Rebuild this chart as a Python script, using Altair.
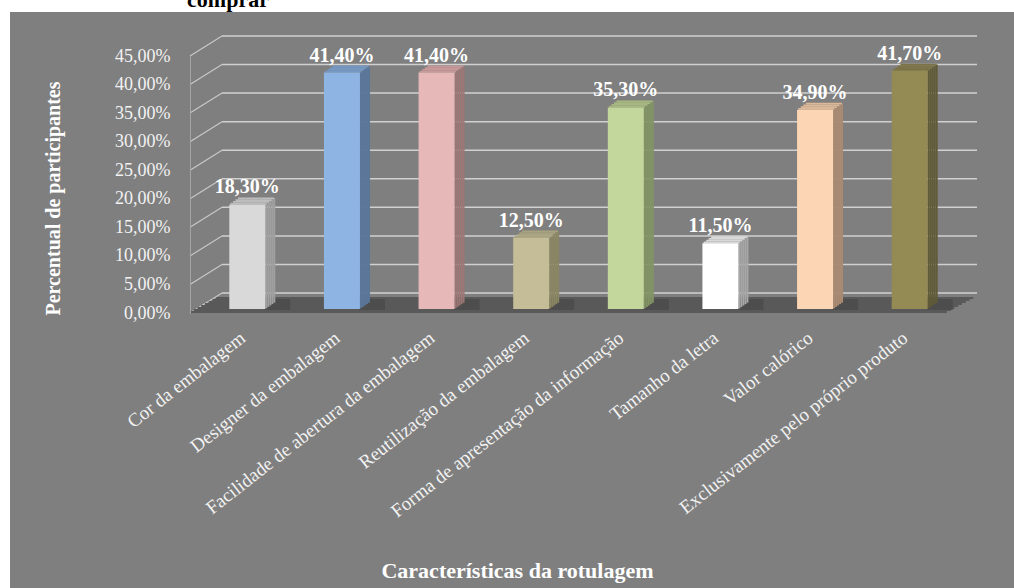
import altair as alt
import pandas as pd

# Rotulagem: share of participants citing each label characteristic
categories = [
    "Cor da embalagem",
    "Designer da embalagem",
    "Facilidade de abertura da embalagem",
    "Reutilização da embalagem",
    "Forma de apresentação da informação",
    "Tamanho da letra",
    "Valor calórico",
    "Exclusivamente pelo próprio produto",
]
percentages = [18.3, 41.4, 41.4, 12.5, 35.3, 11.5, 34.9, 41.7]
y_ticks = [0, 5, 10, 15, 20, 25, 30, 35, 40, 45]

# face colours of the 3-D columns (front / right side / top)
front_colors = ["#D9D9D9", "#8EB4E3", "#E6B9B8", "#C4BD97", "#C3D69B", "#FFFFFF", "#FCD5B5", "#948A54"]
side_colors = ["#A0A0A0", "#5A7699", "#9C7776", "#8A8562", "#839464", "#A6A6A6", "#A98A72", "#615A36"]
top_colors = ["#BDBDBD", "#7598C4", "#C79998", "#A9A27E", "#A7B980", "#D9D9D9", "#DDB898", "#7B7345"]

W, H = 757, 257
DX, DY = 32, 20          # depth of the back wall
BAR_W = 36
BAR_DX, BAR_DY = 10, 4   # columns stand half way into the floor
SERIF = "Liberation Serif"
TXT = "#F2F2F2"

bars = pd.DataFrame({
    "cat": categories,
    "v": percentages,
    "front": front_colors,
    "side": side_colors,
    "top": top_colors,
    "label": [f"{p:.2f}".replace(".", ",") + "%" for p in percentages],
})
ticks = pd.DataFrame({"t": y_ticks})
zero = pd.DataFrame({"t": [0]})

yscale = alt.Scale(domain=[0, 45], nice=False, zero=True)
yaxis = alt.Axis(
    values=y_ticks, zindex=1,
    labelExpr="replace(format(datum.value, '.2f'), '.', ',') + '%'",
    labelFont=SERIF, labelFontSize=18, labelColor=TXT, labelPadding=20,
    domain=True, domainColor="#A6A6A6", ticks=False, grid=False,
    title="Percentual de participantes", titleFont=SERIF, titleFontSize=20,
    titleFontWeight="bold", titleColor="white", titleAngle=270,
    titleX=-137, titleY=142, titleAlign="center", titleBaseline="middle",
)
xaxis = alt.Axis(
    zindex=1,
    labelAngle=322, labelAlign="right", labelBaseline="top", labelPadding=15,
    labelFont=SERIF, labelFontSize=19, labelColor=TXT, labelLimit=500,
    domain=False, ticks=False, grid=False,
    title="Características da rotulagem", titleFont=SERIF, titleFontSize=22,
    titleFontWeight="bold", titleColor="white",
    titleX=327, titleY=264, titleAlign="center", titleBaseline="alphabetic",
)


def xenc():
    return alt.X("cat:N", sort=categories,
                 scale=alt.Scale(paddingInner=0, paddingOuter=0), axis=xaxis)


def yenc(field):
    return alt.Y(f"{field}:Q", scale=yscale, axis=yaxis)


# grey panel behind everything
panel = alt.Chart(zero).mark_rect(color="#7F7F7F").encode(
    x=alt.value(-180), x2=alt.value(W + 67), y=alt.value(-44), y2=alt.value(H + 275)
)

# back-wall gridlines and the short diagonals joining them to the front axis
back_grid = alt.Chart(ticks).mark_rule(color="#D0D0D0", strokeWidth=1.5, yOffset=-DY).encode(
    y=yenc("t"), x=alt.value(DX), x2=alt.value(W + 30)
)
diagonals = alt.Chart(ticks).mark_rule(color="#C8C8C8", strokeWidth=1.2, y2Offset=-DY).encode(
    y=yenc("t"), y2="t", x=alt.value(0), x2=alt.value(DX)
)

# floor: a skewed dark slab built from thin strips
floor_layers = []
n_strips = 8
for k in range(n_strips):
    shift = k * 30 / n_strips
    floor_layers.append(
        alt.Chart(zero).mark_rect(color="#595959", yOffset=-2 * (k + 1), y2Offset=-2 * k).encode(
            y=yenc("t"), y2="t", x=alt.value(shift), x2=alt.value(W + shift)
        )
    )

base = alt.Chart(bars)

# soft shadow cast on the floor to the right of each column
shadow = base.mark_bar(width=26, xOffset=BAR_DX + BAR_W / 2 + 12, yOffset=-BAR_DY - 10,
                       y2Offset=-BAR_DY + 1, color="#4A4A4A", opacity=0.8).encode(
    x=xenc(), y=alt.Y("v:Q", scale=yscale, axis=yaxis).title("Percentual de participantes"),
    y2=alt.Y2(datum=0)
).transform_calculate(v="0")

front = base.mark_bar(width=BAR_W, xOffset=BAR_DX, yOffset=-BAR_DY, y2Offset=-BAR_DY).encode(
    x=xenc(), y=yenc("v"), y2=alt.Y2(datum=0), color=alt.Color("front:N", scale=None)
)

# right side faces, slanting backwards
side_layers = []
n_side = 5
for k in range(n_side):
    lift = -BAR_DY - 1.4 * (k + 0.5)
    side_layers.append(
        base.mark_bar(width=2, xOffset=BAR_DX + BAR_W / 2 + 1 + 2 * k,
                      yOffset=lift, y2Offset=lift).encode(
            x=xenc(), y=yenc("v"), y2=alt.Y2(datum=0), color=alt.Color("side:N", scale=None)
        )
    )

# top faces
top_layers = []
n_top = 4
for k in range(n_top):
    top_layers.append(
        base.mark_bar(width=BAR_W, xOffset=BAR_DX + 2.5 * (k + 0.5),
                      yOffset=-BAR_DY - 1.75 * (k + 1), y2Offset=-BAR_DY - 1.75 * k).encode(
            x=xenc(), y=yenc("v"), y2="v", color=alt.Color("top:N", scale=None)
        )
    )

labels = base.mark_text(font=SERIF, fontSize=20, fontWeight="bold", color="white",
                        align="center", baseline="alphabetic", dx=BAR_DX, dy=-15).encode(
    x=xenc(), y=yenc("v"), text="label:N"
)

heading = alt.Chart(zero).mark_text(font=SERIF, fontSize=22, fontWeight="bold", color="black",
                                    align="center", baseline="alphabetic").encode(
    x=alt.value(38), y=alt.value(-49), text=alt.value("comprar")
)

chart = alt.layer(
    panel, back_grid, diagonals, *floor_layers, shadow, *side_layers, *top_layers, front,
    labels, heading
).properties(
    width=W, height=H,
    autosize=alt.AutoSizeParams(type="none"),
    padding={"left": 190, "top": 56, "right": 67, "bottom": 275},
    background="white",
).configure_view(stroke=None)

chart.save("out.html", embed_options={"renderer": "svg", "actions": False})
